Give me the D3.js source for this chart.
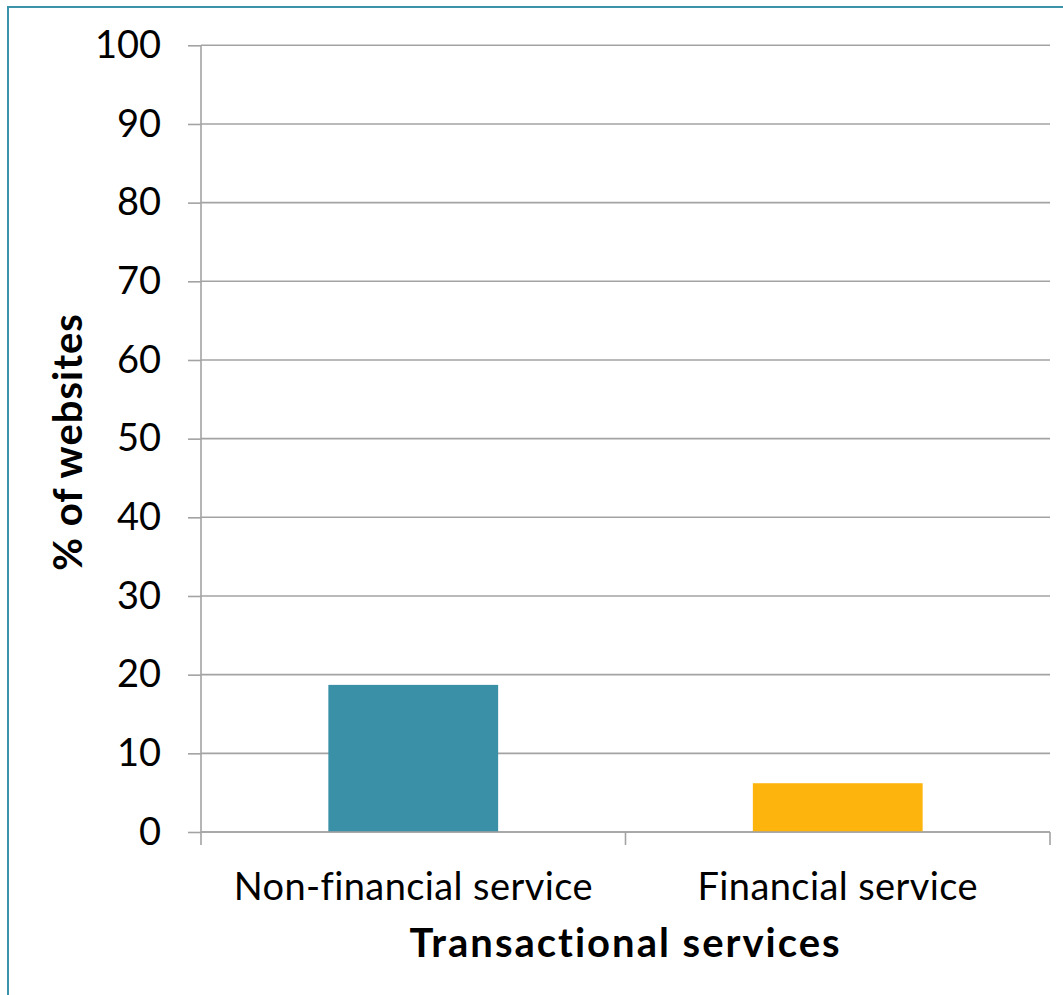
<!DOCTYPE html>
<html>
<head>
<meta charset="utf-8">
<script src="https://cdn.jsdelivr.net/npm/d3@7"></script>
<style>
  html, body { margin: 0; padding: 0; background: #fff; }
  svg { display: block; }
  text { font-family: Lato, "Open Sans", sans-serif; fill: #000; }
</style>
</head>
<body>
<svg id="chart" width="1063" height="995"></svg>
<script>
// Share of websites offering each kind of transactional service
const categories = ["Non-financial service", "Financial service"];
const values = [18.7, 6.2];
const barColors = ["#3a90a7", "#fdb50e"];
const yTicks = [0, 10, 20, 30, 40, 50, 60, 70, 80, 90, 100];
const xTitle = "Transactional services";
const yTitle = "% of websites";

const W = 1063, H = 995;
const margin = { left: 201, right: 13, top: 45.3, bottom: 163 };
const svg = d3.select("#chart");

// outer frame
svg.append("rect")
  .attr("x", 8).attr("y", 7)
  .attr("width", W + 20).attr("height", H + 20)
  .attr("fill", "none").attr("stroke", "#3a93a8").attr("stroke-width", 2);

const x = d3.scaleBand()
  .domain(categories)
  .range([margin.left, W - margin.right])
  .paddingInner(0.6)
  .paddingOuter(0.3);

const y = d3.scaleLinear()
  .domain([0, 100])
  .range([H - margin.bottom, margin.top]);

const gridColor = "#a3a3a3";

// horizontal gridlines + y axis
const yAxis = d3.axisLeft(y)
  .tickValues(yTicks)
  .tickSize(13)
  .tickPadding(27);
const gy = svg.append("g")
  .attr("transform", `translate(${margin.left},0)`)
  .call(yAxis);
gy.select(".domain").remove();
gy.selectAll(".tick line").attr("stroke", gridColor).attr("stroke-width", 1.6);
gy.selectAll(".tick text")
  .attr("font-size", 38)
  .attr("font-family", "Lato, sans-serif")
  .attr("fill", "#000");

svg.append("g")
  .selectAll("line")
  .data(yTicks)
  .join("line")
  .attr("x1", margin.left).attr("x2", W - margin.right)
  .attr("y1", d => y(d)).attr("y2", d => y(d))
  .attr("stroke", gridColor).attr("stroke-width", 1.6);

// vertical axis line
svg.append("line")
  .attr("x1", margin.left).attr("x2", margin.left)
  .attr("y1", y(100)).attr("y2", y(0) + 13)
  .attr("stroke", gridColor).attr("stroke-width", 1.6);

// category separator ticks below the baseline
const step = x.step();
const sepXs = [margin.left + step, W - margin.right];
svg.append("g")
  .selectAll("line")
  .data(sepXs)
  .join("line")
  .attr("x1", d => d).attr("x2", d => d)
  .attr("y1", y(0)).attr("y2", y(0) + 13)
  .attr("stroke", gridColor).attr("stroke-width", 1.6);

// bars
svg.append("g")
  .selectAll("rect")
  .data(categories)
  .join("rect")
  .attr("x", d => x(d))
  .attr("width", x.bandwidth())
  .attr("y", (d, i) => y(values[i]))
  .attr("height", (d, i) => y(0) - y(values[i]))
  .attr("fill", (d, i) => barColors[i]);

// redraw baseline on top of bars
svg.append("line")
  .attr("x1", margin.left).attr("x2", W - margin.right)
  .attr("y1", y(0)).attr("y2", y(0))
  .attr("stroke", gridColor).attr("stroke-width", 1.6);

// category labels
svg.append("g")
  .selectAll("text")
  .data(categories)
  .join("text")
  .attr("x", d => x(d) + x.bandwidth() / 2)
  .attr("y", 900)
  .attr("text-anchor", "middle")
  .attr("font-size", 38)
  .attr("letter-spacing", 0.4)
  .text(d => d);

// axis titles
svg.append("text")
  .attr("x", (margin.left + W - margin.right) / 2)
  .attr("y", 957)
  .attr("text-anchor", "middle")
  .attr("font-size", 40)
  .attr("font-weight", "bold")
  .attr("letter-spacing", 2)
  .text(xTitle);

svg.append("text")
  .attr("transform", "translate(82,442) rotate(-90)")
  .attr("text-anchor", "middle")
  .attr("font-size", 40)
  .attr("font-weight", "bold")
  .attr("letter-spacing", 1)
  .text(yTitle);
</script>
</body>
</html>
